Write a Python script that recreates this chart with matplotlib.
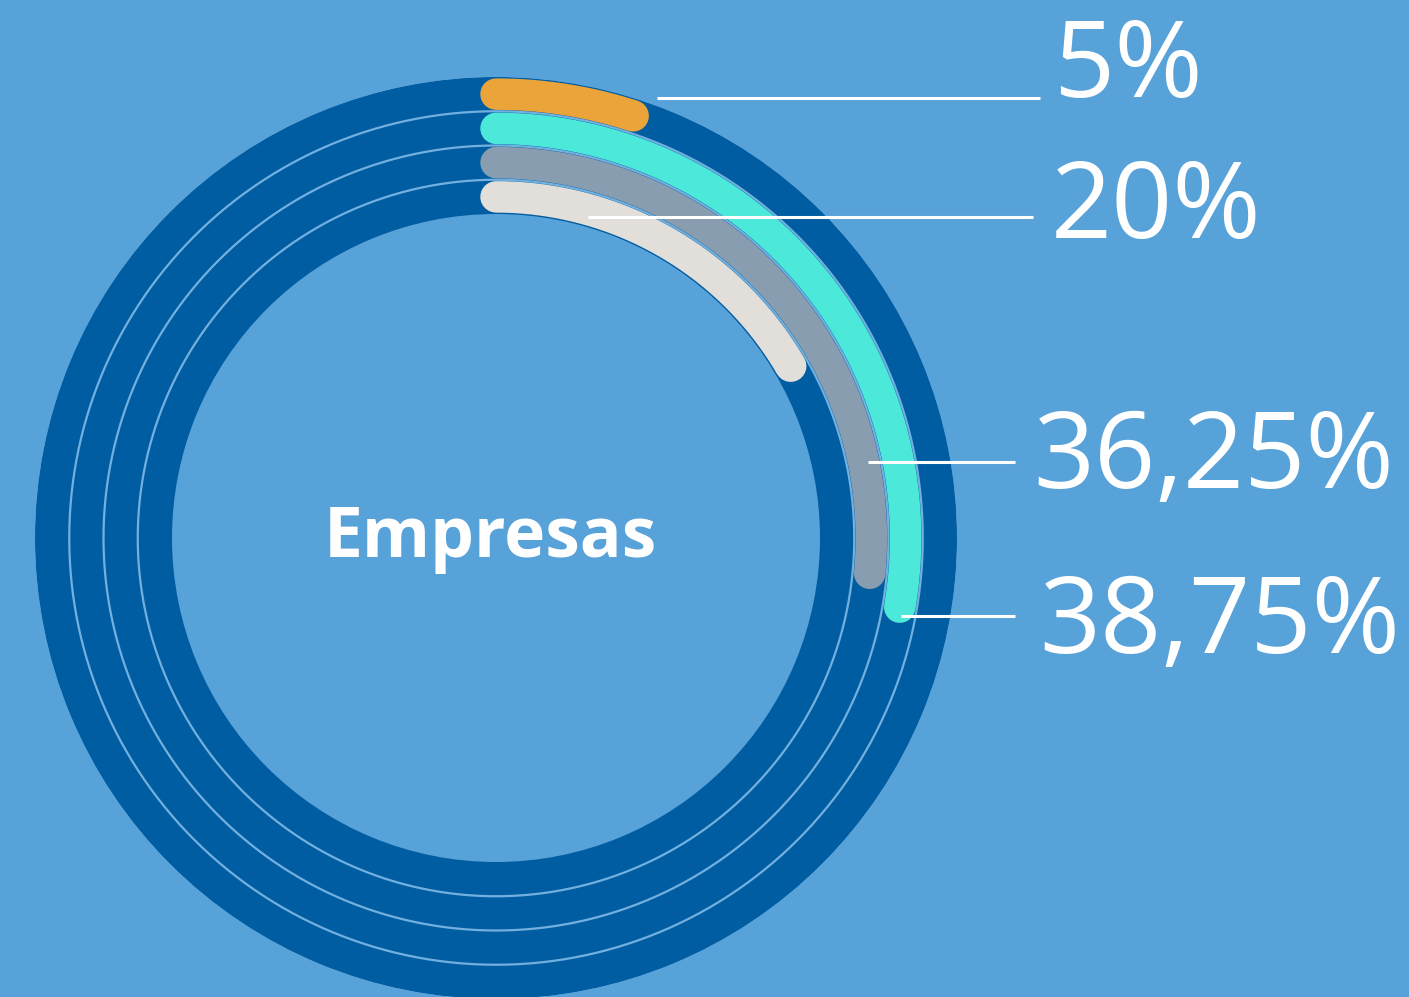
import numpy as np
import matplotlib
matplotlib.use("Agg")
import matplotlib.pyplot as plt

# ---- data ----
center_label = "Empresas"
series_names = ["Serie A", "Serie B", "Serie C", "Serie D"]          # outer -> inner
value_labels = ["5%", "38,75%", "36,25%", "20%"]
arc_percent = [5.0, 27.7, 26.5, 16.6]          # bar length as % of full circle
bar_colors = ["#EAA43A", "#4CE8DA", "#889DB0", "#E2DFDA"]

W, H, DPI = 1409, 997, 100
BG = "#58A2DA"
RING = "#015DA1"
SEP = "#72B0E0"

fig = plt.figure(figsize=(W / DPI, H / DPI), dpi=DPI, facecolor=BG)

# polar axes in pixel-radius units, centre at (496, 538) px
cx, cy, R = 496, 538, 461
ax = fig.add_axes([(cx - R) / W, (H - cy - R) / H, 2 * R / W, 2 * R / H], projection="polar")
ax.set_theta_zero_location("N")
ax.set_theta_direction(-1)
ax.set_rlim(0, R)
ax.set_facecolor("none")
ax.grid(False)
ax.set_xticks([])
ax.set_yticks([])
ax.spines["polar"].set_visible(False)

# dark ring
r_in, r_out = 324, 461
ax.bar(0, r_out - r_in, width=2 * np.pi, bottom=r_in, color=RING, edgecolor="none", align="edge")

# track separators
bounds = np.linspace(r_out, r_in, len(series_names) + 1)
full = np.linspace(0, 2 * np.pi, 721)
for rb in bounds[1:-1]:
    ax.plot(full, np.full_like(full, rb), color=SEP, lw=1.6, solid_capstyle="butt")

# bars
centers = (bounds[:-1] + bounds[1:]) / 2
lw_pt = 31.5 * 72 / DPI
for rc, pct, col in zip(centers, arc_percent, bar_colors):
    th = np.linspace(0, 2 * np.pi * pct / 100, 200)
    ax.plot(th, np.full_like(th, rc), color=col, lw=lw_pt, solid_capstyle="round")

# overlay in pixel coordinates for labels
ov = fig.add_axes([0, 0, 1, 1])
ov.set_xlim(0, W)
ov.set_ylim(H, 0)
ov.axis("off")
ov.patch.set_alpha(0)

leaders = [((657, 98), (1040, 98)),
           ((901, 616), (1015, 616)),
           ((868, 462), (1015, 462)),
           ((588, 217), (1033, 217))]
text_pos = [(1053, 97), (1039, 653), (1033, 488), (1051, 238)]
for (p0, p1), (tx, ty), lab in zip(leaders, text_pos, value_labels):
    ov.plot([p0[0], p1[0]], [p0[1], p1[1]], color="white", lw=2.2, solid_capstyle="butt")
    ov.text(tx, ty, lab, color="white", fontsize=77, family="Open Sans",
            ha="left", va="baseline")

ov.text(490, 557, center_label, color="white", fontsize=50, family="Open Sans",
        fontweight="bold", ha="center", va="baseline")

fig.savefig("out.png", dpi=DPI, facecolor=BG)
